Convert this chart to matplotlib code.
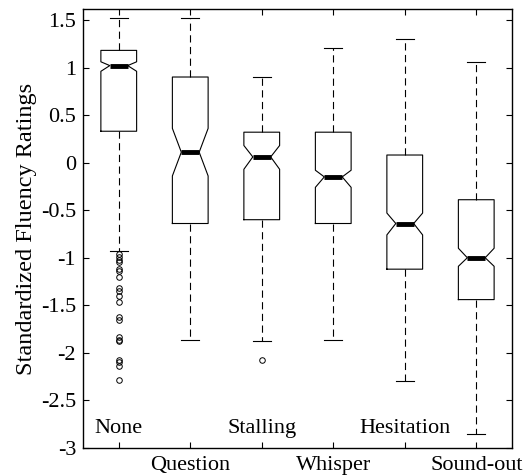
import matplotlib
matplotlib.use("Agg")
import matplotlib.pyplot as plt

plt.rcParams['font.family'] = ['Liberation Serif', 'DejaVu Serif']

categories = ['None', 'Question', 'Stalling', 'Whisper', 'Hesitation', 'Sound-out']
medians = [1.02, 0.11, 0.06, -0.15, -0.64, -1.00]
q1 = [0.33, -0.64, -0.60, -0.64, -1.12, -1.44]
q3 = [1.18, 0.90, 0.32, 0.32, 0.08, -0.39]
notch_lo = [0.96, -0.14, -0.07, -0.26, -0.76, -1.09]
notch_hi = [1.06, 0.36, 0.18, -0.08, -0.53, -0.90]
whisker_lo = [-0.93, -1.86, -1.88, -1.86, -2.30, -2.85]
whisker_hi = [1.52, 1.52, 0.90, 1.20, 1.30, 1.06]
outliers = [
    [-0.96, -0.99, -1.02, -1.04, -1.12, -1.14, -1.20, -1.32, -1.35, -1.40,
     -1.46, -1.62, -1.65, -1.83, -1.86, -1.88, -2.07, -2.10, -2.14, -2.29],
    [],
    [-2.07],
    [],
    [],
    [],
]
yticks = [1.5, 1, 0.5, 0, -0.5, -1, -1.5, -2, -2.5, -3]
ylabel = 'Standardized Fluency Ratings'

stats = []
for i, name in enumerate(categories):
    stats.append(dict(label=name, med=medians[i], q1=q1[i], q3=q3[i],
                      cilo=notch_lo[i], cihi=notch_hi[i],
                      whislo=whisker_lo[i], whishi=whisker_hi[i],
                      fliers=outliers[i]))

fig = plt.figure(figsize=(5.25, 4.75), dpi=100)
ax = fig.add_axes([83/525, 1-448/475, (512-83)/525, (448-9)/475])

positions = list(range(1, len(categories) + 1))
ax.bxp(stats, positions=positions, widths=0.5, shownotches=True,
       boxprops=dict(color='black', linewidth=0.8),
       whiskerprops=dict(color='black', linewidth=0.8, linestyle=(0, (6.5, 4))),
       capprops=dict(color='black', linewidth=0.8),
       medianprops=dict(color='black', linewidth=3.5, solid_capstyle='butt'),
       flierprops=dict(marker='o', markerfacecolor='none', markeredgecolor='black',
                       markersize=4, markeredgewidth=0.7, linestyle='none'))

ax.set_xlim(0.5, len(categories) + 0.5)
ax.set_ylim(-3, 1.615)
ax.set_yticks(yticks)
ax.set_yticklabels([('%g' % v) for v in yticks])
ax.set_xticks(positions)
ax.set_xticklabels([c if i % 2 == 1 else '' for i, c in enumerate(categories)])
for i, c in enumerate(categories):
    if i % 2 == 0:
        ax.text(positions[i], -2.79, c, ha='center', va='center', fontsize=16)

ax.tick_params(direction='in', length=4, width=0.8, top=True, right=True,
               labelsize=16, colors='black')
ax.tick_params(axis='y', pad=5)
ax.tick_params(axis='x', pad=5.5)
for s in ax.spines.values():
    s.set_linewidth(1.0)
ax.set_ylabel(ylabel, fontsize=17.5, labelpad=3)

fig.savefig('out.png', dpi=100)
